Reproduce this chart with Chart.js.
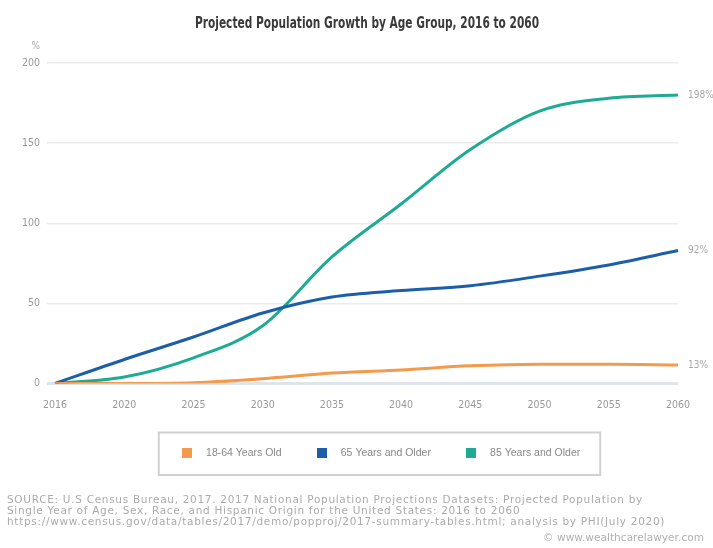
<!DOCTYPE html>
<html><head><meta charset="utf-8">
<script src="https://cdn.jsdelivr.net/npm/chart.js@4"></script>
<style>
html,body{margin:0;padding:0;background:#fff;}
#wrap{position:relative;width:713px;height:548px;overflow:hidden;background:#fff;}
canvas{position:absolute;left:0;top:0;}
#title{position:absolute;left:0;top:13px;white-space:nowrap;font:bold 15px 'DejaVu Sans Condensed','DejaVu Sans',sans-serif;color:#3a3a3a;line-height:20px;transform-origin:0 50%;}
.src{position:absolute;left:7px;top:494px;font:10.5px 'DejaVu Sans',sans-serif;color:#ababab;line-height:11.2px;white-space:nowrap;letter-spacing:0.7px;}
.copy{position:absolute;right:9px;top:531px;font:10.5px 'DejaVu Sans',sans-serif;color:#b0b0b0;letter-spacing:0.05px;}
</style></head>
<body><div id="wrap"><canvas id="c" width="713" height="548"></canvas>
<div id="title">Projected Population Growth by Age Group, 2016 to 2060</div>
<div class="src">SOURCE: U.S Census Bureau, 2017. 2017 National Population Projections Datasets: Projected Population by<br>Single Year of Age, Sex, Race, and Hispanic Origin for the United States: 2016 to 2060<br>https://www.census.gov/data/tables/2017/demo/popproj/2017-summary-tables.html; analysis by PHI(July 2020)</div>
<div class="copy">© www.wealthcarelawyer.com</div></div>
<script>
const years = ['2016','2020','2025','2030','2035','2040','2045','2050','2055','2060'];
const age18to64 = [0, 0, 0.5, 3, 6.5, 8.5, 11, 12, 12, 11.5];
const age65plus = [0, 15, 29, 44, 54, 58, 61, 67, 74, 83];
const age85plus = [0, 4, 16, 36, 79, 112, 146, 170, 178, 180];
const seriesNames = ['18-64 Years Old', '65 Years and Older', '85 Years and Older'];
const endLabels = ['13%', '92%', '198%'];
const yTicks = [0, 50, 100, 150, 200];
const colors = ['#f39a4c', '#1c5ea8', '#1eab94'];

const NARROW = "'Liberation Sans Narrow','DejaVu Sans Condensed',sans-serif";
const LEGEND_SHIFT = 10;

function square(color){
  const cv = document.createElement('canvas');
  cv.width = 10; cv.height = 10;
  const g = cv.getContext('2d');
  g.fillStyle = color; g.fillRect(0,0,10,10);
  return cv;
}

const decor = {
  id: 'decor',
  afterUpdate(chart){
    const lg = chart.legend;
    if (!lg) return;
    lg.left += LEGEND_SHIFT; lg.right += LEGEND_SHIFT;
    (lg.legendHitBoxes || []).forEach(h => { h.left += LEGEND_SHIFT; });
  },
  afterDraw(chart){
    const ctx = chart.ctx;
    ctx.save();
    const hb = chart.legend.legendHitBoxes;
    if (hb && hb.length){
      const first = hb[0], last = hb[hb.length-1];
      const l = first.left - 14, r = last.left + last.width + 20;
      const t = first.top - 15, b = first.top + first.height + 17;
      ctx.strokeStyle = '#d0d0d0'; ctx.lineWidth = 2;
      ctx.strokeRect(l, t, r - l, b - t);
    }
    ctx.font = "10px " + NARROW;
    ctx.fillStyle = '#a8a8a8';
    ctx.textBaseline = 'middle';
    ctx.textAlign = 'left';
    chart.data.datasets.forEach((ds, i) => {
      const meta = chart.getDatasetMeta(i);
      const pt = meta.data[meta.data.length-1];
      ctx.fillText(endLabels[i], pt.x + 10, pt.y);
    });
    const ys = chart.scales.y;
    ctx.textAlign = 'right';
    ctx.fillText('%', ys.right - 15, ys.top - 17);
    ctx.restore();
  }
};

const chart = new Chart(document.getElementById('c'), {
  type: 'line',
  data: {
    labels: years,
    datasets: [age18to64, age65plus, age85plus].map((d, i) => ({
      label: seriesNames[i],
      data: d,
      borderColor: colors[i],
      backgroundColor: colors[i],
      borderWidth: 3,
      pointRadius: 0,
      pointHoverRadius: 0,
      pointStyle: square(colors[i]),
      cubicInterpolationMode: 'monotone',
      fill: false
    }))
  },
  options: {
    responsive: false,
    devicePixelRatio: 1,
    animation: false,
    layout: { padding: { left: 0, right: 35, top: 63, bottom: 80 } },
    plugins: {
      title: { display: false },
      legend: {
        position: 'bottom',
        fullSize: false,
        labels: {
          usePointStyle: true,
          pointStyleWidth: 28,
          color: '#888',
          font: { family: "'Liberation Sans',sans-serif", size: 10.5 },
          padding: 26
        }
      },
      tooltip: { enabled: false }
    },
    scales: {
      x: {
        type: 'category',
        grid: { display: false, drawTicks: false },
        border: { display: false },
        ticks: { color: '#999', padding: 15, font: { family: NARROW, size: 10.5 }, maxRotation: 0, autoSkip: false },
        afterFit: s => { s.height = 38; }
      },
      y: {
        min: 0, max: 200,
        afterBuildTicks: s => { s.ticks = yTicks.map(v => ({ value: v })); },
        ticks: { color: '#999', padding: 7, font: { family: NARROW, size: 10.5 } },
        grid: {
          color: c => c.tick && c.tick.value === 0 ? '#dfe4ea' : '#ececec',
          lineWidth: c => c.tick && c.tick.value === 0 ? 3 : 1.5,
          tickLength: 8,
          drawTicks: true
        },
        border: { display: false },
        afterFit: s => { s.width = 55; }
      }
    }
  },
  plugins: [decor]
});

// fit the title to the reference's condensed width, centred over the plot
const t = document.getElementById('title');
const w = t.offsetWidth;
const target = 344;
const sx = target / w;
const cx = (chart.chartArea.left + chart.chartArea.right) / 2;
t.style.transform = 'scaleX(' + sx + ')';
t.style.left = (cx - target / 2) + 'px';
</script>
</body></html>
